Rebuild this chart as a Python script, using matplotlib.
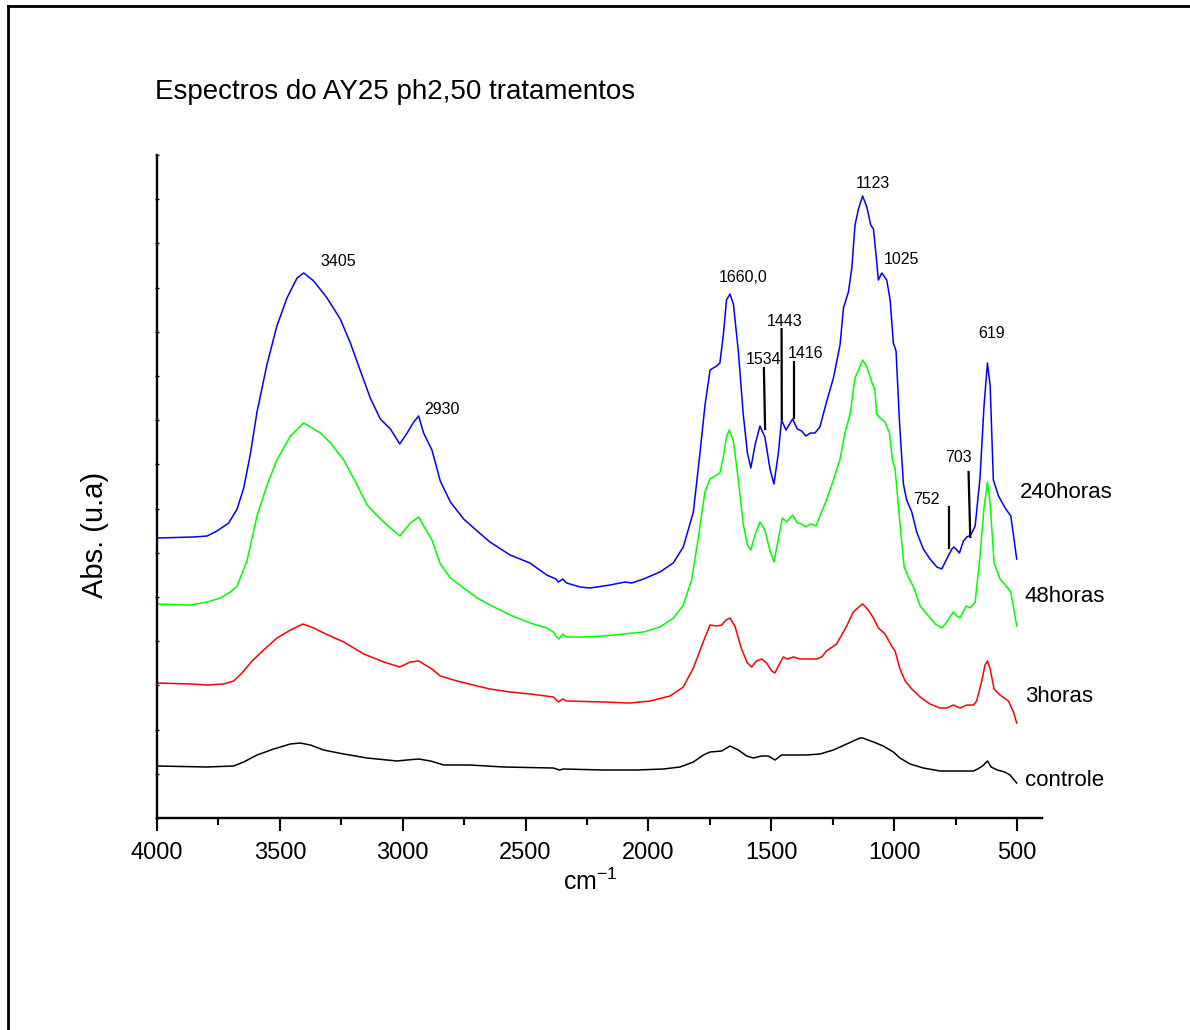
import matplotlib
matplotlib.use('Agg')
import matplotlib.pyplot as plt
from matplotlib.lines import Line2D
from matplotlib.ticker import MultipleLocator

plt.rcParams['font.family'] = ['Liberation Sans', 'DejaVu Sans']
plt.rcParams['mathtext.fontset'] = 'custom'
plt.rcParams['mathtext.rm'] = 'Liberation Sans'
plt.rcParams['mathtext.it'] = 'Liberation Sans:italic'

# ---------------- data (wavenumber cm-1, absorbance a.u.) ----------------
blue_x = [4000, 3851, 3796, 3756, 3708, 3674, 3647, 3620, 3593, 3552, 3512, 3471, 3430, 3403, 3362,
          3308, 3254, 3213, 3172, 3132, 3091, 3050, 3012, 2982, 2955, 2935, 2915, 2881, 2847, 2806,
          2752, 2697, 2645, 2563, 2482, 2414, 2376, 2366, 2349, 2333, 2278, 2238, 2156, 2095, 2068,
          2020, 1953, 1899, 1858, 1817, 1790, 1770, 1749, 1736, 1722, 1709, 1695, 1682, 1668, 1654,
          1634, 1614, 1597, 1583, 1566, 1546, 1526, 1505, 1489, 1471, 1458, 1440, 1413, 1394, 1376,
          1360, 1340, 1322, 1302, 1275, 1247, 1220, 1206, 1186, 1172, 1159, 1145, 1128, 1111, 1095,
          1084, 1073, 1064, 1050, 1030, 1016, 1003, 992, 978, 962, 949, 928, 908, 881, 854, 826, 806,
          786, 765, 756, 734, 718, 704, 688, 670, 650, 634, 620, 609, 596, 575, 548, 525, 512, 501]
blue_y = [280, 281, 282, 287, 295, 309, 330, 364, 406, 454, 492, 520, 540, 545, 537,
          520, 499, 475, 447, 420, 399, 389, 374, 385, 396, 402, 385, 368, 337, 316,
          299, 287, 276, 263, 255, 243, 239, 236, 239, 235, 231, 230, 233, 236, 235,
          239, 246, 255, 271, 306, 365, 412, 448, 450, 452, 455, 483, 518, 524, 514,
          467, 404, 365, 350, 373, 392, 381, 349, 334, 365, 398, 388, 399, 389, 387,
          382, 385, 385, 391, 416, 440, 473, 510, 526, 550, 593, 609, 622, 611, 593,
          589, 562, 538, 545, 538, 518, 475, 467, 396, 334, 318, 306, 286, 269, 259, 251, 249,
          259, 269, 271, 265, 277, 281, 283, 292, 341, 412, 455, 432, 338, 322, 310, 302, 279, 259]

green_x = [4000, 3864, 3796, 3742, 3701, 3674, 3634, 3593, 3552, 3512, 3457, 3403, 3335, 3294, 3240,
           3186, 3145, 3091, 3050, 3012, 2969, 2935, 2915, 2881, 2847, 2806, 2752, 2697, 2645, 2563,
           2482, 2414, 2387, 2373, 2364, 2349, 2333, 2265, 2183, 2102, 2020, 1953, 1898, 1858, 1824,
           1797, 1770, 1749, 1729, 1709, 1695, 1682, 1671, 1654, 1634, 1614, 1597, 1583, 1566, 1546,
           1526, 1505, 1489, 1471, 1455, 1437, 1413, 1394, 1376, 1360, 1340, 1318, 1302, 1275, 1247,
           1220, 1200, 1179, 1159, 1145, 1128, 1111, 1091, 1078, 1071, 1057, 1037, 1019, 1006, 996,
           976, 959, 942, 921, 894, 867, 833, 806, 786, 759, 745, 732, 707, 691, 670, 650, 634, 620,
           609, 593, 569, 541, 525, 512, 501]
green_y = [214, 213, 216, 220, 226, 232, 257, 302, 333, 358, 382, 395, 385, 375, 358,
           333, 313, 299, 290, 282, 295, 301, 292, 278, 254, 240, 230, 220, 213, 203,
           195, 190, 186, 181, 179, 184, 181, 181, 182, 184, 186, 191, 200, 213, 238,
           280, 326, 339, 342, 345, 361, 381, 388, 377, 338, 294, 273, 268, 283, 296,
           288, 267, 256, 279, 300, 296, 303, 295, 294, 291, 294, 292, 302, 318, 338,
           359, 385, 404, 440, 448, 458, 451, 436, 428, 404, 400, 396, 385, 357, 349,
           294, 251, 241, 231, 212, 204, 194, 190, 196, 206, 202, 200, 212, 210, 216, 263, 310, 336,
           314, 255, 239, 231, 226, 208, 192]

red_x = [4000, 3864, 3796, 3729, 3688, 3654, 3613, 3566, 3512, 3457, 3406, 3362, 3322, 3240, 3159,
         3077, 3012, 2969, 2935, 2915, 2881, 2847, 2779, 2697, 2645, 2563, 2482, 2387, 2366, 2349,
         2333, 2183, 2075, 1993, 1912, 1858, 1817, 1777, 1749, 1722, 1702, 1684, 1668, 1648, 1621,
         1597, 1580, 1560, 1539, 1519, 1498, 1485, 1469, 1451, 1435, 1410, 1383, 1349, 1315, 1295,
         1275, 1234, 1193, 1166, 1139, 1128, 1105, 1084, 1064, 1037, 1010, 996, 976, 955, 928, 894,
         854, 813, 786, 759, 732, 704, 677, 664, 643, 630, 620, 609, 593, 569, 535, 514, 501]
red_y = [135, 134, 133, 134, 137, 145, 157, 168, 180, 188, 194, 190, 185, 176, 164,
         156, 151, 156, 157, 154, 149, 142, 137, 132, 129, 126, 124, 121, 116, 119,
         117, 116, 115, 117, 122, 131, 150, 176, 193, 192, 193, 198, 200, 192, 169,
         155, 151, 157, 159, 155, 147, 145, 153, 161, 159, 161, 159, 159, 159, 161,
         167, 174, 192, 206, 212, 214, 208, 200, 190, 184, 172, 167, 149, 137, 129, 121,
         114, 110, 110, 113, 110, 113, 113, 117, 137, 153, 157, 149, 129, 123, 117, 106, 95]

black_x = [4000, 3796, 3688, 3647, 3593, 3525, 3457, 3417, 3376, 3322, 3240, 3145, 3023, 2982, 2935,
           2887, 2833, 2726, 2590, 2387, 2362, 2346, 2183, 2048, 1939, 1871, 1817, 1776, 1749, 1702,
           1668, 1634, 1600, 1573, 1539, 1512, 1485, 1458, 1410, 1356, 1302, 1247, 1193, 1139, 1128,
           1084, 1044, 1003, 976, 935, 881, 813, 745, 677, 660, 640, 620, 605, 580, 550, 528, 501]
black_y = [52, 51, 52, 56, 63, 69, 74, 75, 73, 68, 64, 60, 57, 58, 59,
           57, 53, 53, 51, 50, 48, 49, 48, 48, 49, 51, 56, 63, 66, 67,
           72, 68, 62, 60, 62, 62, 58, 63, 63, 63, 64, 68, 74, 80, 80,
           76, 72, 66, 60, 54, 50, 47, 47, 47, 49, 52, 57, 51, 48, 46, 43, 35]

series_names = ['240horas', '48horas', '3horas', 'controle']
series_colors = ['#0000ff', '#00ff00', '#ff0000', '#000000']
label_x = [490, 468, 468, 468]
label_y = [326, 222, 121, 38]

peak_labels = ['3405', '2930', '1660,0', '1534', '1443', '1416', '1123', '1025', '619', '703', '752']
peak_label_x = [3333, 2913, 1713, 1603, 1517, 1432, 1155, 1041, 658, 793, 923]
peak_label_y = [556, 409, 540, 458, 496, 465, 635, 559, 484, 361, 319]

marker_x0 = [1530, 1458, 1407, 777, 697]
marker_x1 = [1525, 1457, 1407, 777, 690]
marker_y0 = [450, 489, 456, 311, 346]
marker_y1 = [389, 399, 400, 270, 281]

x_ticks = [4000, 3500, 3000, 2500, 2000, 1500, 1000, 500]

# ---------------- figure ----------------
W, H = 1190, 1030
fig = plt.figure(figsize=(W / 100, H / 100), dpi=100)
fig.patch.set_facecolor('white')

# outer frame
fig.add_artist(Line2D([8 / W, 8 / W], [-0.01, 1 - 6 / H], transform=fig.transFigure, color='black', lw=2))
fig.add_artist(Line2D([8 / W, 1.01], [1 - 6 / H, 1 - 6 / H], transform=fig.transFigure, color='black', lw=2))

ax = fig.add_axes([157 / W, 1 - 818 / H, (1042 - 157) / W, (818 - 155) / H])

xs = [blue_x, green_x, red_x, black_x]
ys = [blue_y, green_y, red_y, black_y]
for x, y, c in zip(xs, ys, series_colors):
    ax.plot(x, y, color=c, lw=1.1, solid_joinstyle='round')

ax.set_xlim(4000, 398)
ax.set_ylim(0, 663)

for sp in ['top', 'right']:
    ax.spines[sp].set_visible(False)
for sp in ['left', 'bottom']:
    ax.spines[sp].set_linewidth(1.7)

ax.set_xticks(x_ticks)
ax.set_xticklabels([str(t) for t in x_ticks])
ax.xaxis.set_minor_locator(MultipleLocator(250))
ax.tick_params(axis='x', which='major', direction='out', length=9.5, width=1.5, labelsize=17, pad=8)
ax.tick_params(axis='x', which='minor', direction='out', length=5, width=1.5)

ax.set_yticks([i * 663 / 15 for i in range(16)])
ax.tick_params(axis='y', which='major', direction='inout', length=3, width=1, labelleft=False)

for name, lx, ly in zip(series_names, label_x, label_y):
    ax.text(lx, ly, name, fontsize=16, ha='left', va='center', clip_on=False)

for t, px, py in zip(peak_labels, peak_label_x, peak_label_y):
    ax.text(px, py, t, fontsize=11.5, ha='left', va='center')

for a, b, c, d in zip(marker_x0, marker_x1, marker_y0, marker_y1):
    ax.plot([a, b], [c, d], color='black', lw=1.6)

fig.text(155 / W, 1 - 92 / H, 'Espectros do AY25 ph2,50 tratamentos', fontsize=20, ha='left', va='center')
fig.text(95 / W, 1 - 535 / H, 'Abs. (u.a)', fontsize=21, rotation=90, ha='center', va='center')
fig.text(590 / W, 1 - 882 / H, 'cm$^{-1}$', fontsize=18, ha='center', va='center')

fig.savefig('out.png', dpi=100, facecolor='white')
